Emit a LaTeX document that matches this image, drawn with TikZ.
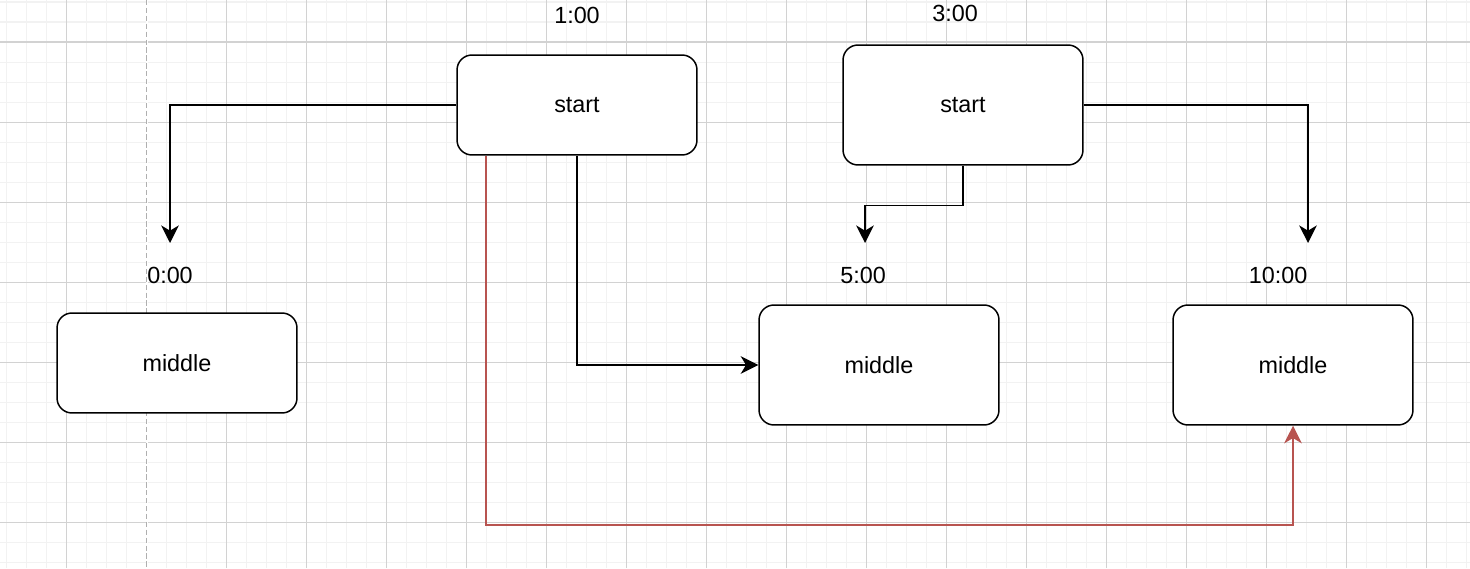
\documentclass[tikz,border=0pt]{standalone}
\usepackage{fontspec}
\setmainfont{Liberation Sans}
\usetikzlibrary{arrows.meta}
\definecolor{gridminor}{RGB}{242,242,242}
\definecolor{gridmajor}{RGB}{210,210,210}
\definecolor{pageline}{RGB}{175,175,175}
\definecolor{redline}{RGB}{184,84,80}

\begin{document}
\begin{tikzpicture}[
    x=0.02cm, y=-0.02cm,
    minorgrid/.style={draw=gridminor, line width=0.57pt},
    majorgrid/.style={draw=gridmajor, line width=0.57pt},
    box/.style={rectangle, rounded corners=0.3cm, draw=black, line width=0.85pt,
                fill=white, minimum width=4.8cm, minimum height=2cm,
                font=\fontsize{13.3}{16}\selectfont, inner sep=0pt},
    tallbox/.style={box, minimum height=2.4cm},
    timelabel/.style={font=\fontsize{13.3}{16}\selectfont, inner sep=0pt},
    flow/.style={-{Stealth[length=10pt,width=10pt,inset=3pt]}, line width=0.85pt},
    redflow/.style={flow, draw=redline, color=redline, line width=1pt},
]
\useasboundingbox (0,0) rectangle (1470,568);

% ======================================================
% Background grid (minor every 20px, major every 80px)
% and the dashed page border.
% ======================================================
\fill[white] (0,0) rectangle (1470,568);
\foreach \gx in {6.5,26.5,...,1470} {
    \draw[minorgrid] (\gx,0) -- (\gx,568);
}
\foreach \gy in {2,22,...,568} {
    \draw[minorgrid] (0,\gy) -- (1470,\gy);
}
\foreach \gx in {66.5,146.5,...,1470} {
    \draw[majorgrid] (\gx,0) -- (\gx,568);
}
\foreach \gy in {42,122,...,568} {
    \draw[majorgrid] (0,\gy) -- (1470,\gy);
}
\fill[white] (145.5,0) rectangle (147.5,568);
\draw[pageline, dash pattern=on 3pt off 1.5pt, line width=0.9pt] (146.5,0) -- (146.5,568);

% ======================================================
% Boxes
% ======================================================
\node[box]     (startA) at (577,105) {start};
\node[tallbox] (startB) at (963,105) {start};
\node[box]     (midA)   at (177,363) {middle};
\node[tallbox] (midB)   at (879,365) {middle};
\node[tallbox] (midC)   at (1293,365) {middle};

% time labels
\node[timelabel] (tStartA) at (577,15)  {1:00};
\node[timelabel] (tStartB) at (955,13)  {3:00};
\node[timelabel] (tMidA)   at (170,275) {0:00};
\node[timelabel] (tMidB)   at (863,275) {5:00};
\node[timelabel] (tMidC)   at (1278,275) {10:00};

% arrow ends above the labels
\coordinate (tipA) at (170,243);
\coordinate (tipB) at (865,243);
\coordinate (tipC) at (1308,243);

% ======================================================
% Connectors
% ======================================================
\draw[flow] (startA.west) -| (tipA);
\draw[flow] (startA.south) |- (midB.west);
\draw[flow] (startB.south) -- ++(0,40) -| (tipB);
\draw[flow] (startB.east) -| (tipC);
\draw[redflow] ([xshift=0.6cm]startA.south west) -- ++(0,369) -| (midC.south);

\end{tikzpicture}
\end{document}
